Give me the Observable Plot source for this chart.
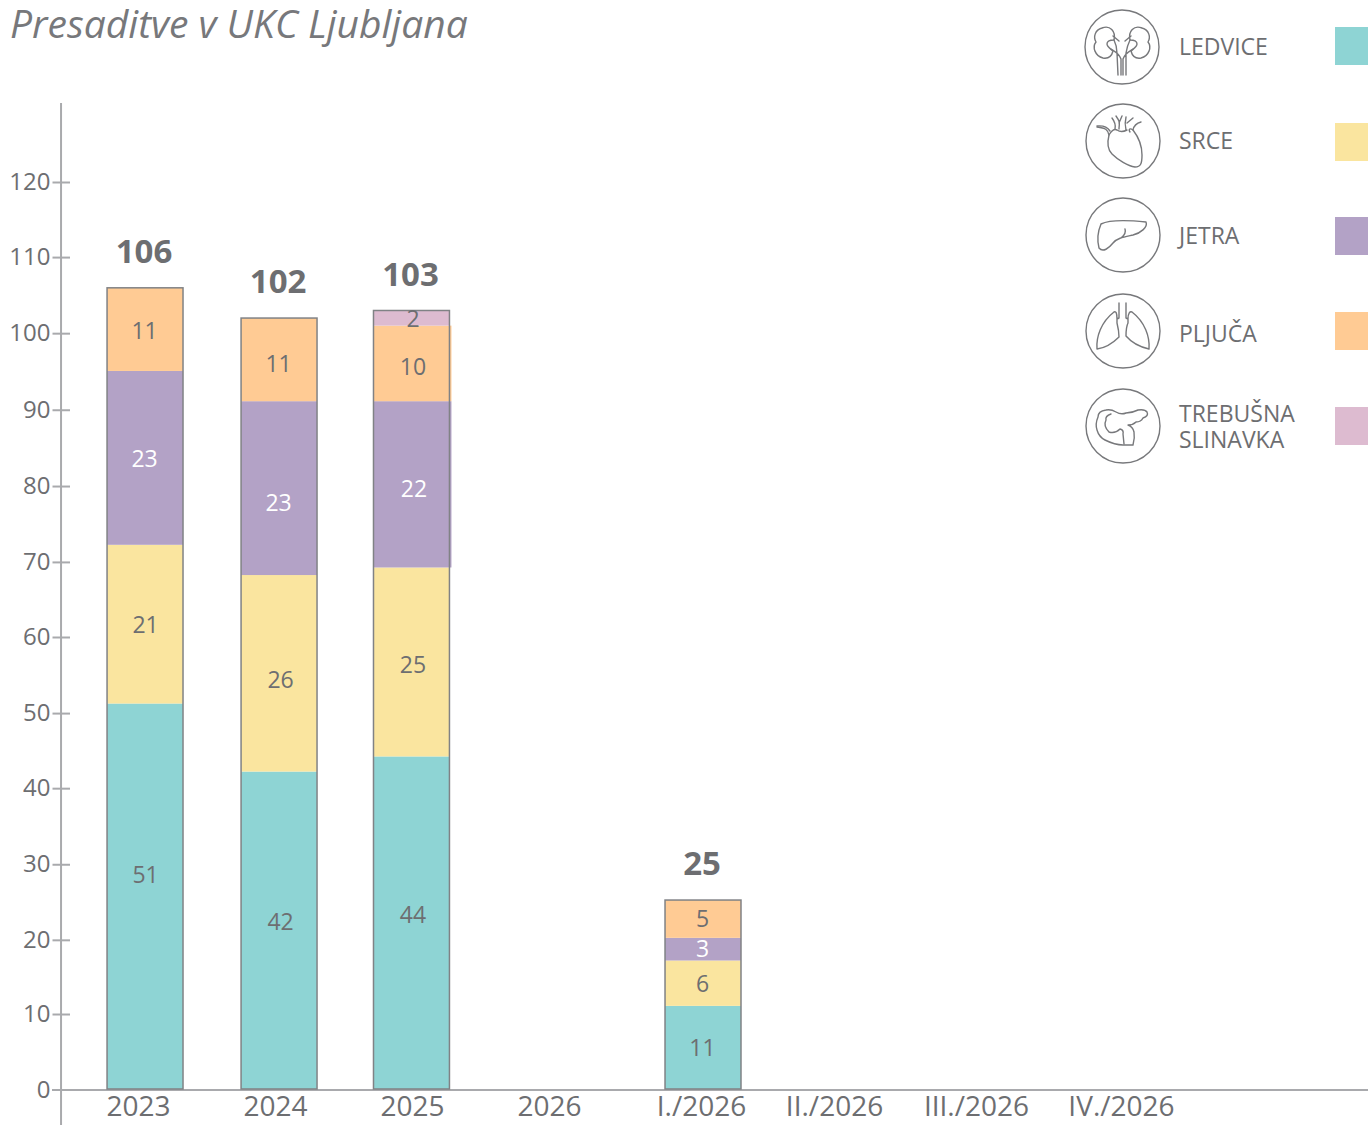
<!DOCTYPE html>
<html lang="sl">
<head>
<meta charset="utf-8">
<script src="https://cdn.jsdelivr.net/npm/d3@7"></script>
<script src="https://cdn.jsdelivr.net/npm/@observablehq/plot@0.6"></script>
<style>
  html, body { margin: 0; padding: 0; background: #fff; }
  #page { position: relative; width: 1368px; height: 1125px; overflow: hidden; font-family: "Open Sans", sans-serif; color: #6d6e71; }
  #chart svg { display: block; }
  #title { position: absolute; left: 10px; top: -1px; font-style: italic; font-size: 39px; line-height: 48px; color: #77787b; white-space: nowrap; }
  .item { position: absolute; left: 1084px; width: 284px; height: 76px; }
  .item svg { position: absolute; left: 0; top: 0; }
  .item .name { position: absolute; left: 95px; top: 0; height: 76px; display: flex; align-items: center; font-size: 23px; line-height: 26px; color: #6d6e71; }
  .item .swatch { position: absolute; left: 251px; top: 19px; width: 33px; height: 38px; }
</style>
</head>
<body>
<div id="page">
  <div id="chart"></div>
  <div id="title">Presaditve v UKC Ljubljana</div>
  <div id="legend"></div>
</div>
<script>
// ---- data ----
const columns = ["2023", "2024", "2025", "2026", "I./2026", "II./2026", "III./2026", "IV./2026"];
const organs = ["LEDVICE", "SRCE", "JETRA", "PLJUČA", "TREBUŠNA SLINAVKA"];
const ledvice  = [51, 42, 44, 0, 11, 0, 0, 0];
const srce     = [21, 26, 25, 0, 6, 0, 0, 0];
const jetra    = [23, 23, 22, 0, 3, 0, 0, 0];
const pljuca   = [11, 11, 10, 0, 5, 0, 0, 0];
const trebusna = [0, 0, 2, 0, 0, 0, 0, 0];
const series = [ledvice, srce, jetra, pljuca, trebusna];
const yTicks = [0, 10, 20, 30, 40, 50, 60, 70, 80, 90, 100, 110, 120];

// ---- style ----
const colors = ["#8ed4d4", "#fae59f", "#b3a2c6", "#ffcb94", "#ddbbd0"];
const textGray = "#6d6e71";
const axisGray = "#a9aaad";
const barEdge = "#808285";
const barNudge = [7, 0.6, -7.4, 0, 3.3, 0, 0, 0];
const tickNudge = [0, -3.4, -6.9, -10.3, 1.3, -6.1, -4.6, 0];
const yTickNudge = [0.5, 0.6, 2, 2, 1.5, 2, 1.5, 2, 1.7, 1, 0, -0.5, 0];
// offsets of the value labels, one list per column, bottom to top
const labelNudge = {
  "2023": [-21, 1, 1, 2],
  "2024": [-8, 7, 15, 5],
  "2025": [-8, 3, 5, 4, 1],
  "I./2026": [1, 1, 0, 0]
};
const labelSideNudge = {
  "2023": [0, 0, -1, -1],
  "2024": [1, 1, -1, -1],
  "2025": [1, 1, 2, 1, 1],
  "I./2026": [-1, -1, -1, -1]
};

// ---- table built from the series ----
const rows = [];
columns.forEach((column, c) => {
  let base = 0;
  let k = 0;
  organs.forEach((organ, s) => {
    const value = series[s][c];
    if (!value) return;
    rows.push({column, c, organ, s, value, y1: base, y2: base + value, nudge: labelNudge[column][k], side: labelSideNudge[column][k]});
    k++;
    base += value;
  });
});
const totals = columns.map((column, c) => ({column, c, total: d3.sum(series, (v) => v[c])})).filter((d) => d.total > 0);

const mLeft = 35.6, mRight = 144.6, plotRight = 1368 - mRight, mTop = 182, mBottom = 36;

const marks = [
  // axis lines and ticks
  Plot.ruleY([0], {stroke: axisGray, strokeWidth: 2, insetLeft: 52 - mLeft, insetRight: -mRight, dy: 0.5}),
  Plot.ruleX([columns[0]], {stroke: axisGray, strokeWidth: 2, dx: 60.5 - 138, insetTop: 103 - mTop, insetBottom: -mBottom}),
  ...yTicks.map((t, i) => Plot.ruleY([t], {stroke: axisGray, strokeWidth: 2, insetLeft: 52.5 - mLeft, insetRight: plotRight - 70, dy: yTickNudge[i]})),
  ...yTicks.map((t, i) => Plot.axisY({ticks: [t], tickSize: 0, tickPadding: mLeft - 50, label: null, fontSize: 24, fill: textGray, dy: yTickNudge[i]})),
  ...columns.map((column, c) => Plot.axisX({ticks: [column], tickSize: 0, tickPadding: 7, label: null, fontSize: 28, fill: textGray, dx: tickNudge[c]})),

  // stacks
  ...rows.map((r) => Plot.barY([r], {
    x: "column", y1: "y1", y2: "y2", fill: "organ", dx: barNudge[r.c],
    insetRight: r.c === 2 && (r.s === 2 || r.s === 3) ? -2 : 0
  })),
  // outline of each whole bar
  ...totals.map((t) => Plot.barY([t], {x: "column", y1: 0, y2: "total", fill: "none", stroke: barEdge, strokeWidth: 1.5, dx: barNudge[t.c]})),

  // value labels
  ...rows.map((r) => Plot.text([r], {
    x: "column", y: (d) => (d.y1 + d.y2) / 2, text: "value",
    fontSize: 23, fill: r.s === 2 ? "#ffffff" : textGray,
    dx: barNudge[r.c] + r.side, dy: r.nudge
  })),
  // totals
  ...totals.map((t) => Plot.text([t], {
    x: "column", y: "total", text: "total", fontSize: 33, fontWeight: 700, fill: textGray,
    dx: barNudge[t.c] - 1.5, dy: -36
  }))
];

const chart = Plot.plot({
  width: 1368,
  height: 1125,
  marginLeft: mLeft,
  marginRight: mRight,
  marginTop: mTop,
  marginBottom: mBottom,
  style: {fontFamily: '"Open Sans", sans-serif', background: "#fff", overflow: "visible"},
  x: {type: "band", domain: columns, padding: 0.459, round: false, axis: null},
  y: {domain: [0, 120], axis: null},
  color: {domain: organs, range: colors},
  marks
});
document.getElementById("chart").append(chart);

// ---- legend with organ icons ----
const icons = [
  // ledvice
  `<path d="M-8,-7 C-6,-16 -12,-22 -20,-19 C-27,-17 -29,-10 -26,-5 C-30,0 -27,9 -19,11 C-13,12 -10,8 -9,4 C-11,2 -15,0 -15,-3 C-15,-6 -11,-7 -8,-7 Z"/>
   <path d="M8,-7 C6,-16 12,-22 20,-19 C27,-17 29,-10 26,-5 C30,0 27,9 19,11 C13,12 10,8 9,4 C11,2 15,0 15,-3 C15,-6 11,-7 8,-7 Z"/>
   <path d="M-8,-7 C-6,-3 -5,0 -5,6 L-4,28 M-11,2 C-8,4 -3,6 -1,12 L-1,28 M8,-7 C6,-3 5,0 4,6 L4,28 M11,2 C8,4 3,6 1,12 L1,28 M-9,-11 L-3,-6 M9,-11 L3,-6"/>`,
  // srce
  `<path d="M-14,-6 C-16,2 -15,9 -11,13 C-5,19 5,25 12,26 C18,26 19,22 19,14 C19,6 17,-2 10,-11 C7,-13 5,-12 7,-9 M-14,-6 C-11,-11 -8,-12 -6,-11 C-3,-9 0,-9 4,-11"/>
   <path d="M-14,-6 C-15,-11 -17,-13 -26,-14 M-13,-10 C-15,-13 -18,-16 -26,-15 M-8,-12 C-7,-16 -8,-19 -11,-23 M-4,-12 C-4,-17 -2,-18 -7,-25 M-4,-18 L-1,-25 M3,-11 C2,-15 2,-20 3,-24 M4,-18 L10,-23 M10,-11 C11,-16 14,-18 18,-19"/>`,
  // jetra
  `<path d="M-22,-11 C-14,-15 4,-15 23,-13 C25,-8 18,-2 10,0 C1,2 -6,3 -10,8 C-14,13 -20,18 -24,13 C-26,5 -25,-4 -22,-11 Z M2,-6 C3,-3 2,0 -2,3"/>`,
  // pljuca
  `<path d="M-4,-28 L-4,-13 L-6,-12 L-6,-8 C-5,-4 -4,0 -4,6 C-10,12 -18,17 -26,18 C-27,6 -22,-9 -9,-19 C-7,-20 -6,-18 -6,-12"/>
   <path d="M3,-28 L3,-13 L5,-12 L5,-8 C3,-4 3,0 3,5 C9,12 17,16 26,18 C27,6 22,-9 9,-19 C7,-20 5,-18 5,-12"/>`,
  // trebusna slinavka
  `<path d="M-17,-16 Q-25,-15 -25,-9 Q-28,-2 -26,4 Q-24,11 -18,14 Q-8,19 0,19 L10,19 Q12,12 11,6 Q10,1 5,-1 Q10,-1 13,-4 Q18,-4 20,-8 Q26,-10 24,-14 Q22,-17 15,-16 Q9,-13 3,-13 Q-2,-11 -7,-14 Q-12,-17 -17,-16 Z"/>
   <path d="M-12,-12 Q-18,-10 -17,-6 Q-20,0 -14,6 Q-8,8 -3,3 Q1,4 0,8 L1,18"/>`
];
const centers = [47, 141, 235, 331, 426];
const iconX = [1122, 1123, 1123, 1123, 1123];
const names = ["LEDVICE", "SRCE", "JETRA", "PLJUČA", "TREBUŠNA<br>SLINAVKA"];
const nameNudge = [-1, -1, 0, 2, 0];
const swatchNudge = [-1, 1, 1, 0, 0];
const legend = document.getElementById("legend");
organs.forEach((organ, i) => {
  const el = document.createElement("div");
  el.className = "item";
  el.style.top = (centers[i] - 38) + "px";
  el.innerHTML =
    `<svg width="76" height="76" viewBox="-38 -38 76 76" style="left:${iconX[i] - 1122}px" fill="none" stroke="#77787b" stroke-width="1.4" stroke-linejoin="round" stroke-linecap="round">
       <circle r="37" /> ${icons[i]}
     </svg>
     <div class="name" style="top:${nameNudge[i]}px">${names[i]}</div>
     <div class="swatch" style="background:${colors[i]};top:${19 + swatchNudge[i]}px"></div>`;
  legend.append(el);
});
</script>
</body>
</html>
